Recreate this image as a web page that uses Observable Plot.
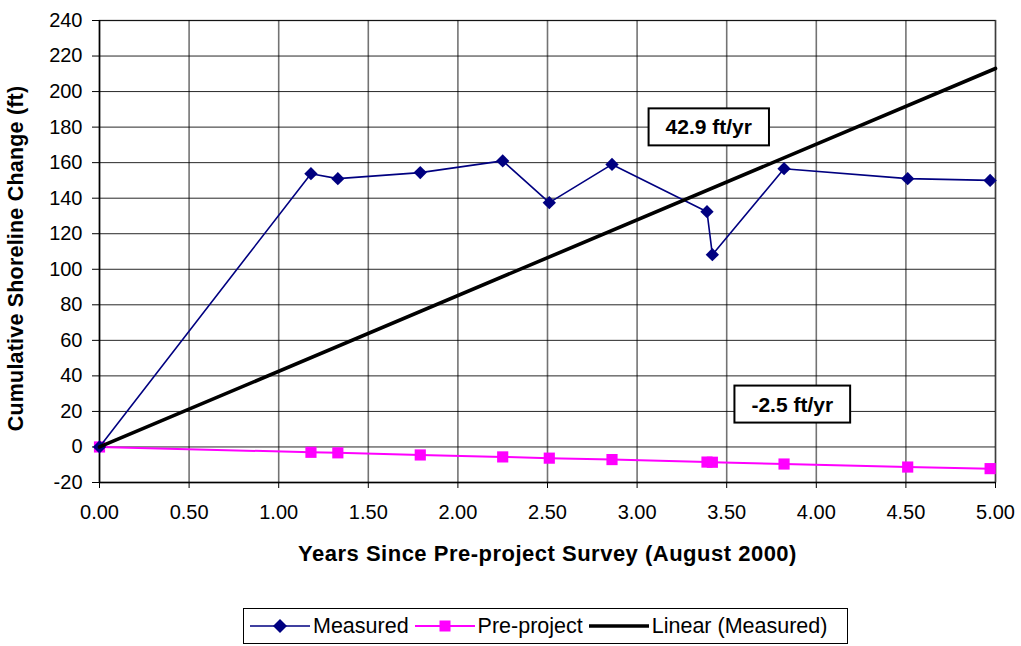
<!DOCTYPE html>
<html><head><meta charset="utf-8">
<script src="https://cdn.jsdelivr.net/npm/d3@7"></script>
<script src="https://cdn.jsdelivr.net/npm/@observablehq/plot@0.6"></script>
<style>
body{margin:0;background:#fff;font-family:"Liberation Sans",Arial,sans-serif;}
#chart svg{display:block;}
#legend{position:absolute;left:243px;top:608px;width:605px;height:36px;border:1px solid #000;box-sizing:border-box;display:flex;align-items:center;font-size:21.5px;color:#000;white-space:nowrap;}
#legend .item{display:flex;align-items:center;margin-left:6px;}
#legend .item span{margin-left:3px;}
</style></head><body>
<div id="chart"></div>
<div id="legend"></div>
<script>
// ---- data ----
const years      = [0, 1.18, 1.33, 1.79, 2.25, 2.51, 2.86, 3.39, 3.42, 3.82, 4.51, 4.97];
const measured   = [0, 153.8, 151, 154.4, 161, 137.5, 159, 132.4, 108.2, 156.6, 151, 150];
const preProject = [0, -3.0, -3.3, -4.5, -5.6, -6.3, -7.1, -8.5, -8.6, -9.6, -11.3, -12.2];
const trendYears  = [0, 5];
const trendValues = [0, 213];
const xTicks = [0, 0.5, 1, 1.5, 2, 2.5, 3, 3.5, 4, 4.5, 5];
const yTicks = [-20, 0, 20, 40, 60, 80, 100, 120, 140, 160, 180, 200, 220, 240];
const annoText = ["42.9 ft/yr", "-2.5 ft/yr"];
const annoX = [3.40, 3.866];
const annoY = [179.7, 23.7];
const seriesNames = ["Measured", "Pre-project", "Linear (Measured)"];
const seriesColors = ["#000080", "#FF00FF", "#000000"];

const idx = years.map((_, i) => i);
const tIdx = trendYears.map((_, i) => i);
const aIdx = annoText.map((_, i) => i);

const W = 1021, H = 598;
const plot = Plot.plot({
  width: W, height: H,
  marginLeft: 99, marginRight: 26, marginTop: 20, marginBottom: H - 482,
  style: {fontFamily: '"Liberation Sans", Arial, sans-serif', fontSize: "20px", color: "#000", background: "#fff"},
  x: {domain: [0, 5]},
  y: {domain: [-20, 240]},
  marks: [
    Plot.frame({stroke: "#888", strokeWidth: 1.5}),
    Plot.ruleX(xTicks, {stroke: "#000", strokeOpacity: 0.55, strokeWidth: 1.6}),
    Plot.ruleY(yTicks, {stroke: "#000", strokeOpacity: 0.85, strokeWidth: 1}),
    Plot.ruleX([0], {stroke: "#000", strokeWidth: 1.3}),
    Plot.ruleY([-20], {stroke: "#000", strokeWidth: 1.3}),
    Plot.axisX({ticks: xTicks, tickFormat: d3.format(".2f"), tickSize: 6, tickPadding: 16,
      label: "Years Since Pre-project Survey (August 2000)", labelAnchor: "center", labelOffset: 78, labelArrow: "none"}),
    Plot.axisY({ticks: yTicks, tickSize: 7, tickPadding: 10, tickFormat: d => String(d),
      label: "Cumulative Shoreline Change (ft)", labelAnchor: "center", labelOffset: 92, labelArrow: "none"}),
    Plot.line(idx, {x: i => years[i], y: i => preProject[i], stroke: seriesColors[1], strokeWidth: 2}),
    Plot.dot(idx, {x: i => years[i], y: i => preProject[i], symbol: "square", r: 6.3, fill: seriesColors[1], stroke: "none"}),
    Plot.line(idx, {x: i => years[i], y: i => measured[i], stroke: seriesColors[0], strokeWidth: 1.6}),
    Plot.dot(idx, {x: i => years[i], y: i => measured[i], symbol: "diamond2", r: 6, fill: seriesColors[0], stroke: "none"}),
    Plot.line(tIdx, {x: i => trendYears[i], y: i => trendValues[i], stroke: seriesColors[2], strokeWidth: 3.6}),
    Plot.text(aIdx, {x: i => annoX[i], y: i => annoY[i], text: i => annoText[i], fontWeight: "bold", fontSize: 21, fill: "#000", className: "anno"})
  ]
});
document.getElementById("chart").appendChild(plot);

// bold axis titles
d3.select(plot).selectAll('[aria-label="x-axis label"]').attr("font-weight", "bold").attr("font-size", "22px").attr("letter-spacing", "0.5px");
d3.select(plot).selectAll('[aria-label="y-axis label"]').attr("font-weight", "bold").attr("font-size", "21.5px").attr("letter-spacing", "0.2px")
  .selectAll("text").attr("dx", "-7");

// boxes behind annotations
d3.select(plot).selectAll("g.anno text").each(function() {
  const b = this.getBBox();
  const padX = 17, padY = 7;
  const r = document.createElementNS("http://www.w3.org/2000/svg", "rect");
  r.setAttribute("x", b.x - padX); r.setAttribute("y", b.y - padY);
  r.setAttribute("width", b.width + 2 * padX); r.setAttribute("height", b.height + 2 * padY);
  r.setAttribute("fill", "#fff"); r.setAttribute("stroke", "#000"); r.setAttribute("stroke-width", "2");
  const t = this.getAttribute("transform"); if (t) r.setAttribute("transform", t);
  this.parentNode.insertBefore(r, this);
});

// legend
const leg = document.getElementById("legend");
const symbols = ["diamond", "square", null];
seriesNames.forEach((name, k) => {
  const item = document.createElement("div"); item.className = "item";
  const sw = d3.create("svg").attr("width", 60).attr("height", 22);
  sw.append("line").attr("x1", 0).attr("x2", 60).attr("y1", 11).attr("y2", 11)
    .attr("stroke", seriesColors[k]).attr("stroke-width", k === 2 ? 3.6 : (k === 1 ? 2 : 1.6));
  if (symbols[k] === "diamond") sw.append("path").attr("d", "M30,4L37,11L30,18L23,11Z").attr("fill", seriesColors[k]);
  if (symbols[k] === "square") sw.append("rect").attr("x", 24.5).attr("y", 5.5).attr("width", 11).attr("height", 11).attr("fill", seriesColors[k]);
  item.appendChild(sw.node());
  const s = document.createElement("span"); s.textContent = name; item.appendChild(s);
  leg.appendChild(item);
});
</script>
</body></html>
